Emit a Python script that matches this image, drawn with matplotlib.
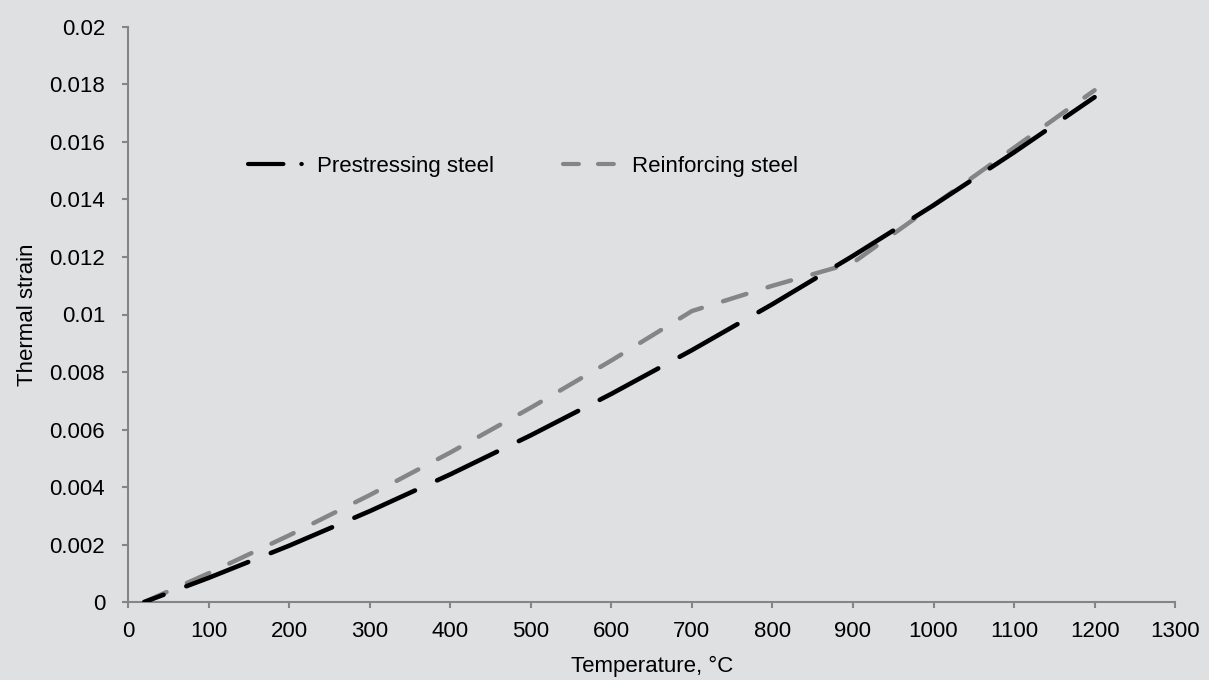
import matplotlib
matplotlib.use("Agg")
from matplotlib import pyplot as plt
from matplotlib.lines import Line2D

# temperature points, degC
temp = [20, 100, 200, 300, 400, 500, 600, 700, 800, 900, 1000, 1100, 1200]
# thermal strain
prestressing = [0.0, 0.00084, 0.00196, 0.00316, 0.00444, 0.0058, 0.00724,
                0.00876, 0.01036, 0.01204, 0.0138, 0.01564, 0.01756]
reinforcing = [0.0, 0.001, 0.00232, 0.00372, 0.0052, 0.00676, 0.0084,
               0.01012, 0.011, 0.0118, 0.0138, 0.0158, 0.0178]

x_ticks = list(range(0, 1301, 100))
y_ticks = [0, 0.002, 0.004, 0.006, 0.008, 0.01, 0.012, 0.014, 0.016, 0.018, 0.02]
y_labels = ['0', '0.002', '0.004', '0.006', '0.008', '0.01', '0.012',
            '0.014', '0.016', '0.018', '0.02']

plt.rcParams['font.family'] = ['Liberation Sans', 'DejaVu Sans']
bg = '#dfe0e2'
spine = '#858585'
gray = '#858585'

fig = plt.figure(figsize=(12.09, 6.8), dpi=100, facecolor=bg)
ax = fig.add_axes([0.106, 0.1147, 0.866, 0.8456], facecolor=bg)

ax.plot(temp, prestressing, color='black', lw=3.3, ls=(10, (14.5, 5.3)),
        dash_capstyle='round', zorder=3)
ax.plot(temp, reinforcing, color=gray, lw=3.2, dashes=(5.5, 5),
        dash_capstyle='round', zorder=2)

ax.set_xlim(0, 1300)
ax.set_ylim(0, 0.02)
ax.set_xticks(x_ticks)
ax.set_yticks(y_ticks)
ax.set_yticklabels(y_labels)
ax.set_xlabel('Temperature, \u00b0C', fontsize=16, labelpad=10)
ax.set_ylabel('Thermal strain', fontsize=16, labelpad=8)

for s in ['top', 'right']:
    ax.spines[s].set_visible(False)
for s in ['left', 'bottom']:
    ax.spines[s].set_color(spine)
    ax.spines[s].set_linewidth(1.5)
ax.tick_params(direction='out', length=4.5, width=1.5, color=spine,
               labelsize=16, labelcolor='black')
ax.tick_params(axis='x', pad=9)
ax.tick_params(axis='y', pad=12)

# legend handles (Excel style: long dash + dot for prestressing)
h1 = Line2D([], [], color='black', lw=3, dashes=(8.5, 4.3, 0.1, 10),
            dash_capstyle='round')
h2 = Line2D([], [], color=gray, lw=3, dashes=(3.8, 4.6),
            dash_capstyle='round')
ax.legend([h1, h2], ['Prestressing steel', 'Reinforcing steel'],
          loc='center left', bbox_to_anchor=(0.1146, 0.758), ncol=2,
          frameon=False, fontsize=16, handlelength=2.5, columnspacing=3.1,
          handletextpad=0.6, borderpad=0, borderaxespad=0)

plt.savefig('out.png', dpi=100, facecolor=bg)
